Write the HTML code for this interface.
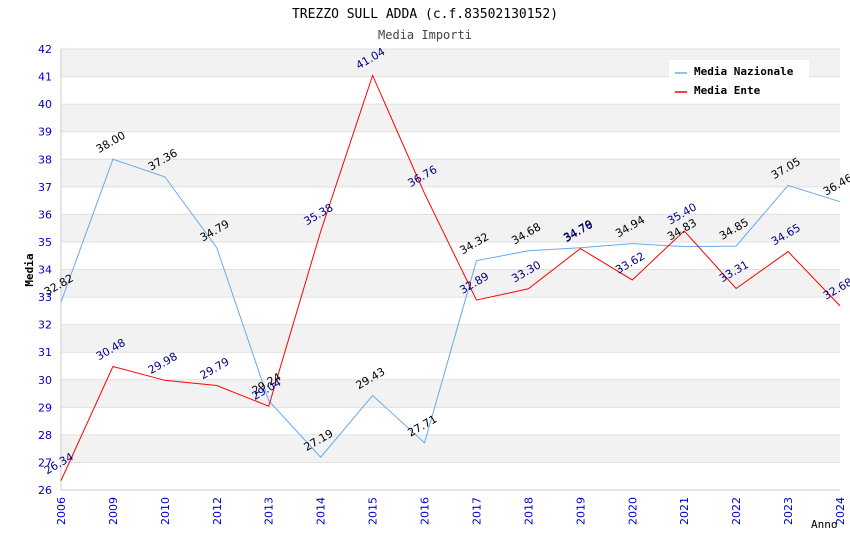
<!DOCTYPE html>
<html><head><meta charset="utf-8"><style>
body{margin:0;background:#fff}
svg{display:block}
</style></head><body>
<svg id="c" width="850" height="550" xmlns="http://www.w3.org/2000/svg">
<text x="425" y="18" text-anchor="middle" font-family="DejaVu Sans Mono, Liberation Mono, monospace" font-size="13" fill="#000">TREZZO SULL ADDA (c.f.83502130152)</text>
<text x="425" y="39" text-anchor="middle" font-family="DejaVu Sans Mono, Liberation Mono, monospace" font-size="12" fill="#444">Media Importi</text>
<g id="bands"></g><g id="axes"></g><g id="lines"></g><g id="labels"></g>
<g>
<rect x="669" y="60" width="140" height="42" fill="#fff"/>
<line x1="675" y1="73" x2="687" y2="73" stroke="#66aaee" stroke-width="1.5"/>
<text x="694" y="75" font-family="DejaVu Sans Mono, Liberation Mono, monospace" font-size="11" font-weight="bold">Media Nazionale</text>
<line x1="675" y1="92" x2="687" y2="92" stroke="#ff0000" stroke-width="1.5"/>
<text x="694" y="94" font-family="DejaVu Sans Mono, Liberation Mono, monospace" font-size="11" font-weight="bold">Media Ente</text>
</g>
<text x="33" y="270" transform="rotate(-90 33 270)" text-anchor="middle" font-family="DejaVu Sans Mono, monospace" font-size="11" font-weight="bold">Media</text>
<text x="811" y="528" font-family="DejaVu Sans Mono, monospace" font-size="11">Anno</text>
</svg>
<script>
const categories=["2006","2009","2010","2012","2013","2014","2015","2016","2017","2018","2019","2020","2021","2022","2023","2024"];
const nazionale=[32.82,38.00,37.36,34.79,29.24,27.19,29.43,27.71,34.32,34.68,34.79,34.94,34.83,34.85,37.05,36.46];
const ente=[26.34,30.48,29.98,29.79,29.04,35.38,41.04,36.76,32.89,33.30,34.76,33.62,35.40,33.31,34.65,32.68];
const yTicks=[26,27,28,29,30,31,32,33,34,35,36,37,38,39,40,41,42];
const L=61,R=840,T=49,B=490,ymin=26,ymax=42;
const NS="http://www.w3.org/2000/svg";
const x=i=>L+i*(R-L)/(categories.length-1);
const y=v=>B-(v-ymin)*(B-T)/(ymax-ymin);
function mk(tag,attrs,parent,text){const e=document.createElementNS(NS,tag);for(const k in attrs)e.setAttribute(k,attrs[k]);if(text!==undefined)e.textContent=text;document.getElementById(parent).appendChild(e);return e;}
for(let i=0;i<yTicks.length-1;i++){
  const b=mk('rect',{x:L,y:y(yTicks[i+1]),width:R-L,height:y(yTicks[i])-y(yTicks[i+1]),fill:i%2===0?'#ffffff':'#f2f2f2'},'bands');
  
  
}
yTicks.forEach(t=>{
  const g=mk('line',{x1:L,x2:R,y1:y(t),y2:y(t),stroke:'#e0e0e0'},'axes');
  
  
  const tx=mk('text',{x:L-9,y:y(t)+4,'text-anchor':'end','font-family':'DejaVu Sans, sans-serif','font-size':'11',fill:'#0000cc'},'axes',String(t));
  
  
});
mk('line',{x1:L,x2:L,y1:T,y2:B,stroke:'#ccc'},'axes');
mk('line',{x1:L,x2:R,y1:B,y2:B,stroke:'#ccc'},'axes');
categories.forEach((c,i)=>{
  const px=x(i),py=B+7;
  const tx=mk('text',{x:px+4,y:py,'text-anchor':'end','font-family':'DejaVu Sans, sans-serif','font-size':'11',fill:'#0000cc',transform:`rotate(-90 ${px+4} ${py})`},'axes',c);
  
  
});
function series(vals,color,lblColor,name){
  const p=mk('polyline',{points:vals.map((v,i)=>x(i)+','+y(v)).join(' '),fill:'none',stroke:color,'stroke-width':1},'lines');
  
  
  vals.forEach((v,i)=>{
    const px=x(i)-14,py=y(v)-6;
    const t=mk('text',{x:px,y:py,'font-family':'DejaVu Sans, sans-serif','font-size':'11',fill:lblColor,transform:`rotate(-30 ${px} ${py})`},'labels',v.toFixed(2));
    
    
  });
}
series(nazionale,'#66aaee','#000','nazionale');
series(ente,'#ff0000','#000080','ente');
</script>
</body></html>
